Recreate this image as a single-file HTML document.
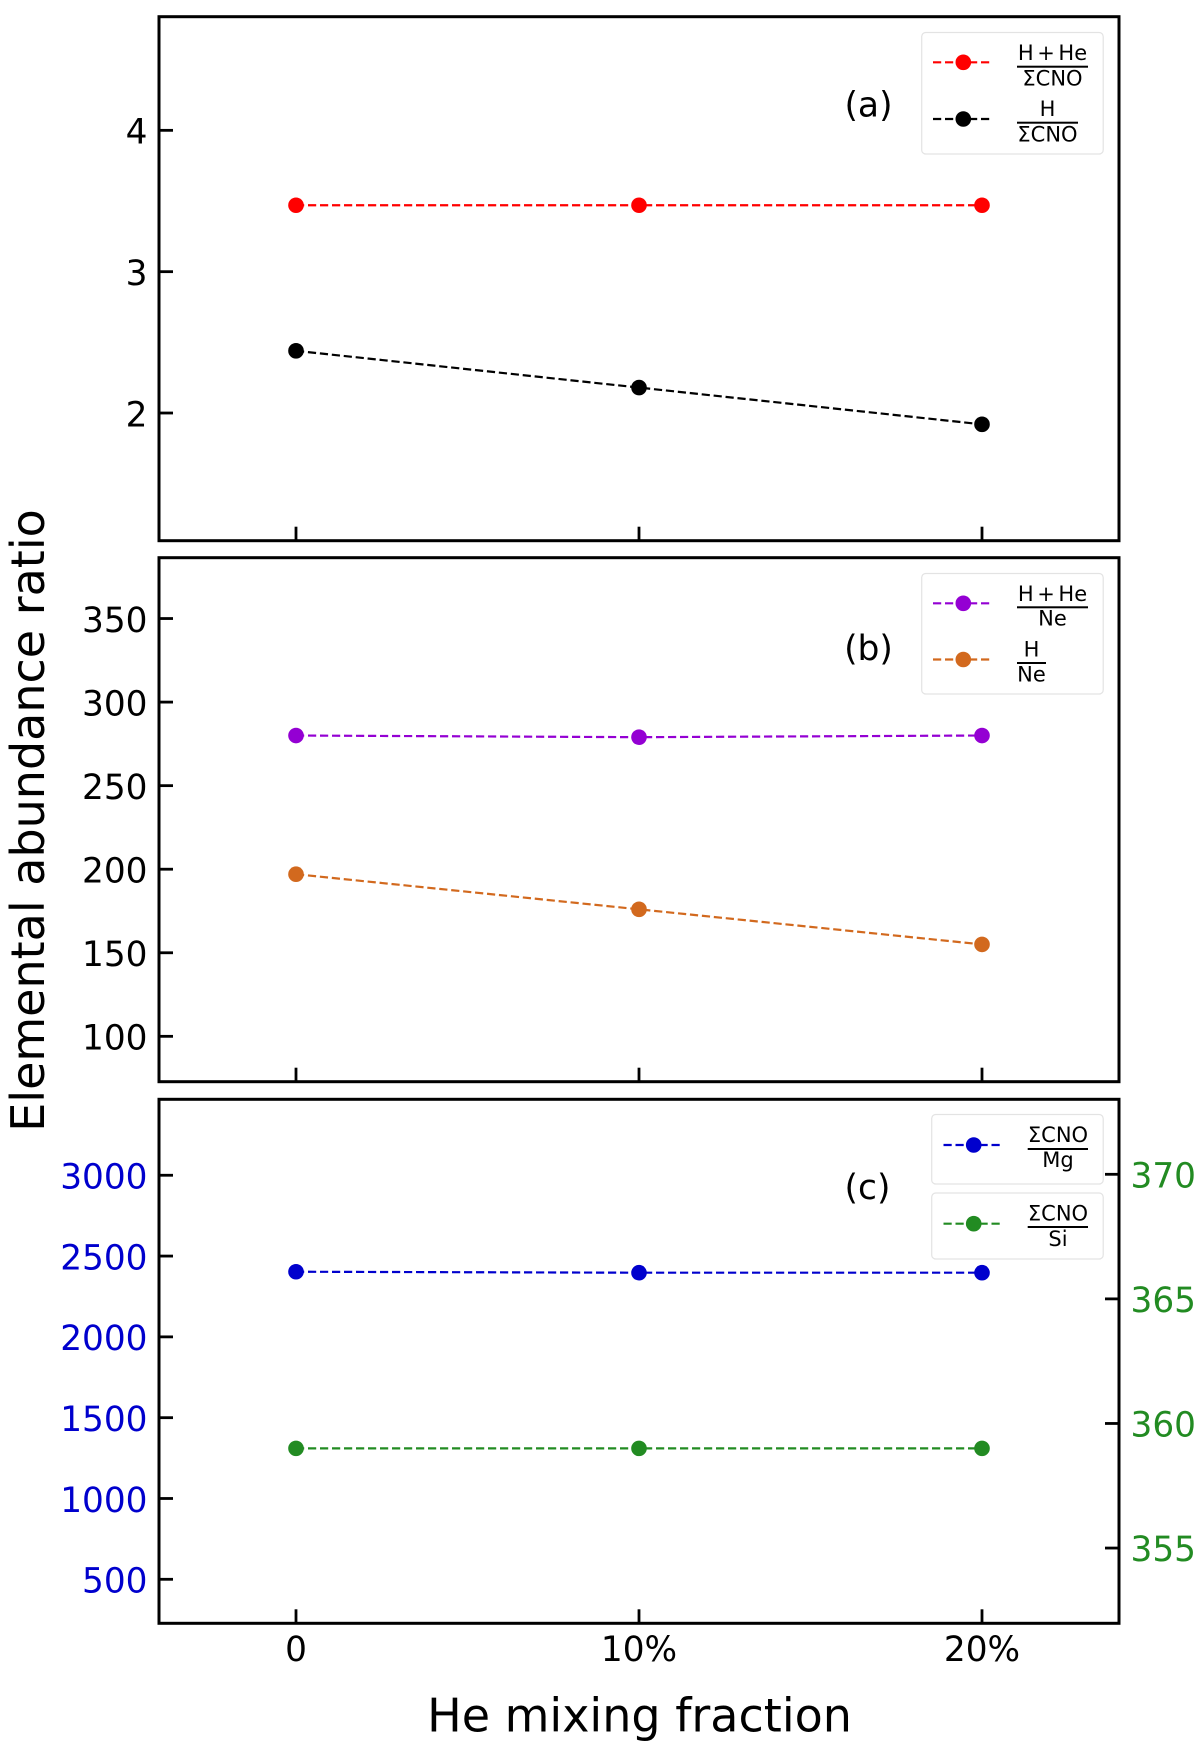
<!DOCTYPE html>
<html>
<head>
<meta charset="utf-8">
<title>Elemental abundance ratio</title>
<style>
html,body{margin:0;padding:0;background:#fff;}
svg{display:block;font-family:"DejaVu Sans","Liberation Sans",sans-serif;}
.lg{font-size:21px;fill:#000;text-anchor:middle;word-spacing:-3.1px;}
</style>
</head>
<body>
<svg id="chart" width="1200" height="1745" viewBox="0 0 1200 1745" xmlns="http://www.w3.org/2000/svg">
  <rect width="1200" height="1745" fill="#fff"/>
  <g id="plots"></g>

  <text transform="translate(44,820.5) rotate(-90)" text-anchor="middle" font-size="46" fill="#000">Elemental abundance ratio</text>
  <text x="639.5" y="1731.5" text-anchor="middle" font-size="46" fill="#000">He mixing fraction</text>

  <text x="868.5" y="116.5" text-anchor="middle" font-size="34.5" fill="#000">(a)</text>
  <text x="868.5" y="660" text-anchor="middle" font-size="34.5" fill="#000">(b)</text>
  <text x="867.5" y="1199" text-anchor="middle" font-size="34.5" fill="#000">(c)</text>

  <g>
    <rect x="921.7" y="32.5" width="181.5" height="121.5" rx="4" fill="#fff" fill-opacity=".8" stroke="#e3e3e3" stroke-width="1.2"/>
    <g>
      <line x1="933" x2="991" y1="62.3" y2="62.3" stroke="#ff0000" stroke-width="2.2" stroke-dasharray="8.2 3.8"/>
      <circle cx="963.3" cy="62.3" r="7.8" fill="#ff0000"/>
      <text class="lg" x="1052.5" y="60">H + He</text>
      <rect x="1017" y="65.7" width="71" height="2" fill="#000"/>
      <text class="lg" x="1052.5" y="85.7">ΣCNO</text>
    </g>
    <g>
      <line x1="933" x2="991" y1="119" y2="119" stroke="#000" stroke-width="2.2" stroke-dasharray="8.2 3.8"/>
      <circle cx="963.3" cy="119" r="7.8" fill="#000"/>
      <text class="lg" x="1047.5" y="116">H</text>
      <rect x="1017" y="121.7" width="61" height="2" fill="#000"/>
      <text class="lg" x="1047.5" y="141.7">ΣCNO</text>
    </g>
  </g>

  <g>
    <rect x="921.7" y="573.5" width="181.5" height="120.5" rx="4" fill="#fff" fill-opacity=".8" stroke="#e3e3e3" stroke-width="1.2"/>
    <g>
      <line x1="933" x2="991" y1="603.3" y2="603.3" stroke="#9400d3" stroke-width="2.2" stroke-dasharray="8.2 3.8"/>
      <circle cx="963.3" cy="603.3" r="7.8" fill="#9400d3"/>
      <text class="lg" x="1052.5" y="601">H + He</text>
      <rect x="1017" y="606.3" width="71" height="2" fill="#000"/>
      <text class="lg" x="1052.5" y="625.7">Ne</text>
    </g>
    <g>
      <line x1="933" x2="991" y1="659.5" y2="659.5" stroke="#d2691e" stroke-width="2.2" stroke-dasharray="8.2 3.8"/>
      <circle cx="963.3" cy="659.5" r="7.8" fill="#d2691e"/>
      <text class="lg" x="1031.5" y="656.7">H</text>
      <rect x="1017" y="662" width="29" height="2" fill="#000"/>
      <text class="lg" x="1031.5" y="681.7">Ne</text>
    </g>
  </g>

  <g>
    <rect x="931.7" y="1114.5" width="171.5" height="69.5" rx="4" fill="#fff" fill-opacity=".8" stroke="#e3e3e3" stroke-width="1.2"/>
    <g>
      <line x1="943.5" x2="1002" y1="1145" y2="1145" stroke="#0000cd" stroke-width="2.2" stroke-dasharray="8.2 3.8"/>
      <circle cx="973.7" cy="1145" r="7.8" fill="#0000cd"/>
      <text class="lg" x="1058" y="1142">ΣCNO</text>
      <rect x="1027.7" y="1148" width="60.3" height="2" fill="#000"/>
      <text class="lg" x="1058" y="1167">Mg</text>
    </g>
  </g>

  <g>
    <rect x="931.7" y="1193" width="171.5" height="66" rx="4" fill="#fff" fill-opacity=".8" stroke="#e3e3e3" stroke-width="1.2"/>
    <g>
      <line x1="943.5" x2="1002" y1="1223.7" y2="1223.7" stroke="#228b22" stroke-width="2.2" stroke-dasharray="8.2 3.8"/>
      <circle cx="973.7" cy="1223.7" r="7.8" fill="#228b22"/>
      <text class="lg" x="1058" y="1220.3">ΣCNO</text>
      <rect x="1027.7" y="1226" width="60.3" height="2" fill="#000"/>
      <text class="lg" x="1058" y="1246">Si</text>
    </g>
  </g>
</svg>

<script>
// Data
const categories = ['0', '10%', '20%'];

const hHeCno = [3.47, 3.47, 3.47];
const hCno = [2.44, 2.18, 1.92];
const hHeNe = [280, 279, 280];
const hNe = [197, 176, 155];
const cnoMg = [2403, 2397, 2397];
const cnoSi = [359, 359, 359];

const ticksA = [2, 3, 4];
const ticksB = [100, 150, 200, 250, 300, 350];
const ticksCLeft = [500, 1000, 1500, 2000, 2500, 3000];
const ticksCRight = [355, 360, 365, 370];

const domainA = [1.0966, 4.804];
const domainB = [72.85, 386.4];
const domainCLeft = [227.7, 3470];
const domainCRight = [351.98, 373.01];

// Layout
const svgNS = 'http://www.w3.org/2000/svg';
const plots = document.getElementById('plots');
const frameLeft = 159;
const frameRight = 1119;
const tickLen = 14;

// Categorical x axis: 0 -> 296, 1 -> 639, 2 -> 982
function xScale(i) {
  return 296 + i * 343;
}

function makeYScale(domain, top, bottom) {
  return function (v) {
    return bottom - (v - domain[0]) / (domain[1] - domain[0]) * (bottom - top);
  };
}

function svgEl(tag, name, parent) {
  const el = document.createElementNS(svgNS, tag);
  
  
  parent.appendChild(el);
  return el;
}

function drawLine(parent, name, x1, y1, x2, y2, color, width) {
  const l = svgEl('line', name, parent);
  l.setAttribute('x1', x1);
  l.setAttribute('y1', y1);
  l.setAttribute('x2', x2);
  l.setAttribute('y2', y2);
  l.setAttribute('stroke', color);
  l.setAttribute('stroke-width', width);
  return l;
}

function drawText(parent, name, x, y, str, anchor, color) {
  const t = svgEl('text', name, parent);
  t.setAttribute('x', x);
  t.setAttribute('y', y);
  t.setAttribute('text-anchor', anchor);
  t.setAttribute('font-size', '34.3');
  t.setAttribute('fill', color);
  t.textContent = str;
  return t;
}

function drawSeries(parent, name, values, yScale, color) {
  const g = svgEl('g', name, parent);
  const line = svgEl('polyline', name + '-line', g);
  line.setAttribute('points', values.map(function (v, i) { return xScale(i) + ',' + yScale(v); }).join(' '));
  line.setAttribute('fill', 'none');
  line.setAttribute('stroke', color);
  line.setAttribute('stroke-width', '2.2');
  line.setAttribute('stroke-dasharray', '8.2 3.8');
  values.forEach(function (v, i) {
    const c = svgEl('circle', name + '-point-' + i, g);
    c.setAttribute('cx', xScale(i));
    c.setAttribute('cy', yScale(v));
    c.setAttribute('r', '7.8');
    c.setAttribute('fill', color);
  });
}

function drawPanel(name, top, bottom, showXLabels) {
  const g = svgEl('g', name, plots);
  categories.forEach(function (c, i) {
    drawLine(g, name + '-x-tick-' + i, xScale(i), bottom, xScale(i), bottom - tickLen, '#000', 2.8);
    if (showXLabels) {
      drawText(g, name + '-x-tick-label-' + i, xScale(i), 1661, c, 'middle', '#000');
    }
  });
  return g;
}

function drawFrame(g, name, top, bottom) {
  const r = svgEl('rect', name + '-frame', g);
  r.setAttribute('x', frameLeft);
  r.setAttribute('y', top);
  r.setAttribute('width', frameRight - frameLeft);
  r.setAttribute('height', bottom - top);
  r.setAttribute('fill', 'none');
  r.setAttribute('stroke', '#000');
  r.setAttribute('stroke-width', '3');
}

function drawLeftTicks(g, name, ticks, yScale, color) {
  ticks.forEach(function (t, i) {
    const y = yScale(t);
    drawLine(g, name + '-y-tick-' + i, frameLeft, y, frameLeft + tickLen, y, '#000', 2.8);
    drawText(g, name + '-y-tick-label-' + i, 147.5, y + 13.3, String(t), 'end', color);
  });
}

function drawRightTicks(g, name, ticks, yScale, color) {
  ticks.forEach(function (t, i) {
    const y = yScale(t);
    drawLine(g, name + '-right-tick-' + i, frameRight, y, frameRight - tickLen, y, '#000', 2.8);
    drawText(g, name + '-right-tick-label-' + i, 1130.5, y + 13, String(t), 'start', color);
  });
}

// Panel (a)
const yA = makeYScale(domainA, 16.7, 540.7);
const panelA = drawPanel('panel-a', 16.7, 540.7, false);
drawLeftTicks(panelA, 'panel-a', ticksA, yA, '#000');
drawSeries(panelA, 'series-h-he-cno', hHeCno, yA, '#ff0000');
drawSeries(panelA, 'series-h-cno', hCno, yA, '#000000');
drawFrame(panelA, 'panel-a', 16.7, 540.7);

// Panel (b)
const yB = makeYScale(domainB, 557.7, 1081.7);
const panelB = drawPanel('panel-b', 557.7, 1081.7, false);
drawLeftTicks(panelB, 'panel-b', ticksB, yB, '#000');
drawSeries(panelB, 'series-h-he-ne', hHeNe, yB, '#9400d3');
drawSeries(panelB, 'series-h-ne', hNe, yB, '#d2691e');
drawFrame(panelB, 'panel-b', 557.7, 1081.7);

// Panel (c)
const yCL = makeYScale(domainCLeft, 1099.3, 1623.3);
const yCR = makeYScale(domainCRight, 1099.3, 1623.3);
const panelC = drawPanel('panel-c', 1099.3, 1623.3, true);
drawLeftTicks(panelC, 'panel-c', ticksCLeft, yCL, '#0000cd');
drawRightTicks(panelC, 'panel-c', ticksCRight, yCR, '#228b22');
drawSeries(panelC, 'series-cno-mg', cnoMg, yCL, '#0000cd');
drawSeries(panelC, 'series-cno-si', cnoSi, yCR, '#228b22');
drawFrame(panelC, 'panel-c', 1099.3, 1623.3);
</script>
</body>
</html>
